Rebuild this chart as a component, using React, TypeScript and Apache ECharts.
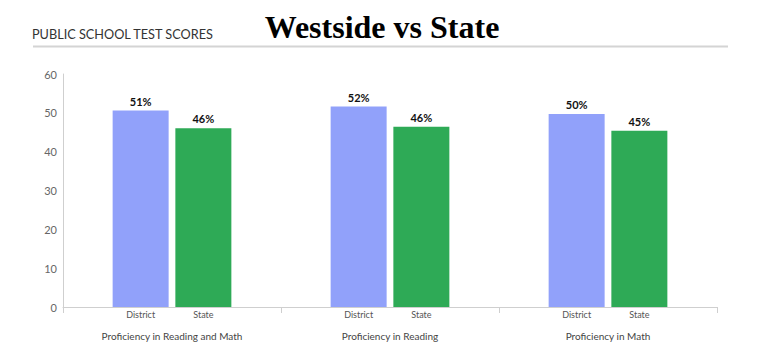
import React, { useEffect, useRef } from "react";
import * as echarts from "echarts";

const groups = ["Proficiency in Reading and Math", "Proficiency in Reading", "Proficiency in Math"];
const districtValues = [50.6, 51.6, 49.7];
const stateValues = [46.0, 46.4, 45.4];
const seriesNames = ["District", "State"];
const yTicks = { min: 0, max: 60, interval: 10 };
const titleText = "Westside vs State";
const headerText = "PUBLIC SCHOOL TEST SCORES";

const BLUE = "#91a1fa";
const GREEN = "#2eaa56";

export default function App() {
  const ref = useRef<HTMLDivElement>(null);
  useEffect(() => {
    if (!ref.current) return;
    const chart = echarts.init(ref.current, undefined, { renderer: "svg" });
    const font = "Lato, 'Open Sans', sans-serif";
    const valueLabel = {
      show: true,
      position: "top" as const,
      distance: 4,
      formatter: (p: any) => `${Math.round(p.value)}%`,
      fontFamily: font,
      fontWeight: "bold" as const,
      fontSize: 11,
      color: "#111",
    };
    const nameLabel = (name: string) => ({
      show: true,
      position: "bottom" as const,
      distance: 3,
      formatter: () => name,
      fontFamily: font,
      fontSize: 9,
      color: "#555",
    });
    const common = { type: "bar" as const, barWidth: 56, barGap: "12%", silent: true };
    chart.setOption({
      animation: false,
      backgroundColor: "#fff",
      title: {
        text: titleText,
        left: 377,
        textAlign: "center",
        top: 6,
        textStyle: {
          fontFamily: "'Liberation Serif', 'Times New Roman', serif",
          fontWeight: "bold",
          fontSize: 32,
          color: "#000",
        },
      },
      graphic: [
        {
          type: "text",
          left: 32,
          top: 27,
          style: { text: headerText, font: `12.7px ${font}`, fill: "#333" },
        },
        {
          type: "line",
          shape: { x1: 33, y1: 46.5, x2: 728, y2: 46.5 },
          style: { stroke: "#d4d4d4", lineWidth: 2 },
        },
      ],
      grid: { left: 63, right: 55, top: 74, bottom: 55, containLabel: false },
      xAxis: [
        {
          type: "category",
          data: groups,
          axisLine: { lineStyle: { color: "#cfcfcf" } },
          axisTick: { show: true, length: 6, lineStyle: { color: "#cfcfcf" } },
          axisLabel: { margin: 24, fontFamily: font, fontSize: 10, color: "#444" },
        },
        {
          type: "category",
          data: groups,
          show: false,
          position: "bottom",
        },
      ],
      yAxis: {
        type: "value",
        min: yTicks.min,
        max: yTicks.max,
        interval: yTicks.interval,
        axisLine: { show: true, lineStyle: { color: "#cfcfcf" } },
        axisTick: { show: false },
        splitLine: { show: false },
        axisLabel: { margin: 6, fontFamily: font, fontSize: 11, color: "#666" },
      },
      series: [
        { ...common, name: seriesNames[0], xAxisIndex: 0, data: districtValues, itemStyle: { color: BLUE }, label: valueLabel },
        { ...common, name: seriesNames[1], xAxisIndex: 0, data: stateValues, itemStyle: { color: GREEN }, label: valueLabel },
        { ...common, name: seriesNames[0] + " ", xAxisIndex: 1, data: districtValues, itemStyle: { color: "rgba(0,0,0,0)" }, label: nameLabel(seriesNames[0]) },
        { ...common, name: seriesNames[1] + " ", xAxisIndex: 1, data: stateValues, itemStyle: { color: "rgba(0,0,0,0)" }, label: nameLabel(seriesNames[1]) },
      ],
    });
    return () => chart.dispose();
  }, []);
  return (
    <div
      ref={ref}
      style={{ position: "fixed", left: 0, top: 0, width: 772, height: 362, background: "#fff" }}
    />
  );
}
